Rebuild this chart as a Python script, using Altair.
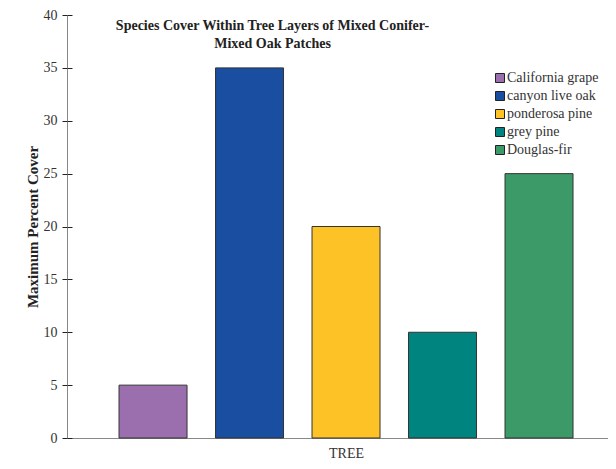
import altair as alt
import pandas as pd

species = ["California grape", "canyon live oak", "ponderosa pine", "grey pine", "Douglas-fir"]
cover = [5, 35, 20, 10, 25]
colors = ["#9b6fae", "#1a4ea0", "#fcc226", "#00847f", "#3c9a69"]
y_ticks = [0, 5, 10, 15, 20, 25, 30, 35, 40]

df = pd.DataFrame({"species": species, "cover": cover})

FONT = "Liberation Serif"

x_enc = alt.X("species:N", sort=species,
              scale=alt.Scale(paddingInner=0.2953, paddingOuter=0.4508, align=0.598),
              axis=alt.Axis(title="TREE", labels=False, ticks=False, domainColor="#888888",
                            titleFont=FONT, titleFontSize=14, titleFontWeight="normal",
                            titleColor="#333333", titleX=279, titleY=19,
                            titleBaseline="alphabetic", titleAlign="center"))

y_scale = alt.Scale(domain=[0, 40], nice=False)

bars = alt.Chart(df).mark_bar(stroke="#333333", strokeWidth=1).encode(
    x=x_enc,
    y=alt.Y("cover:Q", scale=y_scale,
            axis=alt.Axis(title="Maximum Percent Cover", values=y_ticks, grid=False,
                          tickSize=5, tickColor="#222222", domainColor="#888888",
                          labelFont=FONT, labelFontSize=14, labelColor="#333333",
                          labelPadding=5,
                          titleFont=FONT, titleFontSize=15, titleFontWeight="bold",
                          titleColor="#222222", titlePadding=3)),
    color=alt.Color("species:N", sort=species,
                    scale=alt.Scale(domain=species, range=colors),
                    legend=alt.Legend(title=None, orient="none", legendX=426, legendY=56,
                                      symbolType="square", symbolSize=81,
                                      symbolStrokeColor="#222222", symbolStrokeWidth=1,
                                      labelFont=FONT, labelFontSize=14, labelColor="#333333",
                                      rowPadding=4, labelOffset=0)),
)

inner_ticks = alt.Chart(df).mark_bar(opacity=0).encode(
    x=x_enc,
    y=alt.Y("cover:Q", scale=y_scale,
            axis=alt.Axis(orient="left", offset=-5, title=None, values=y_ticks, grid=False,
                          labels=False, domain=False, tickSize=5, tickColor="#222222")),
)

chart = alt.layer(bars, inner_ticks).resolve_axis(y="independent").properties(
    width=541,
    height=423,
    autosize=alt.AutoSizeParams(type="none"),
    padding={"left": 59, "top": 7, "right": 0, "bottom": 23},
    title=alt.TitleParams(
        text=["Species Cover Within Tree Layers of Mixed Conifer-", "Mixed Oak Patches"],
        font=FONT, fontSize=14, fontWeight="bold", color="#222222",
        anchor="middle", dx=-65, baseline="top", dy=47, lineHeight=18,
    ),
).configure_view(stroke=None)

chart.save("out.html", embed_options={"renderer": "svg", "actions": False})
